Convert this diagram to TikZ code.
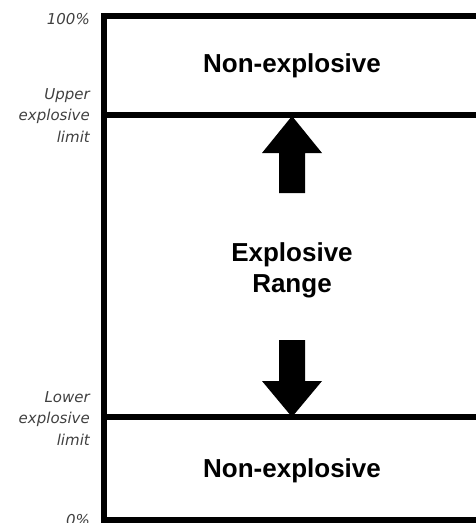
\documentclass[tikz,border=0pt]{standalone}
\usepackage{fontspec}
\newfontfamily\zonefont{Liberation Sans}
\newfontfamily\limitfont{DejaVu Sans}
\begin{document}
\begin{tikzpicture}[x=1pt,y=-1pt,
        borderline/.style={line width=6pt},
        zonetext/.style={font=\zonefont\bfseries\fontsize{26}{31}\selectfont,align=center},
        limittext/.style={font=\limitfont\itshape\fontsize{15}{21.5}\selectfont,text=black!75,align=right,inner sep=0pt,anchor=east},
        blockarrow/.style={fill=black}]
            \useasboundingbox (0,0) rectangle (475,523);

            \coordinate (A) at (104,16);
            \coordinate (B) at (480,16);
            \coordinate (C) at (480,520);
            \coordinate (D) at (104,520);

            \coordinate (E) at (104,115);
            \coordinate (F) at (480,115);

            \coordinate (G) at (104,417);
            \coordinate (H) at (480,417);

            \draw[borderline] (B) -- (A) -- (D) -- (C);
            \draw[borderline] (E) -- (F);
            \draw[borderline] (G) -- (H);

            % arrows pointing to the limits
            \fill[blockarrow] (292,116) -- (322,153) -- (305,153) -- (305,193)
                -- (279,193) -- (279,153) -- (262,153) -- cycle;
            \fill[blockarrow] (292,417) -- (322,381) -- (305,381) -- (305,340)
                -- (279,340) -- (279,381) -- (262,381) -- cycle;

            \node[zonetext,anchor=base] (upperzone) at (292,72) {Non-explosive};
            \node[zonetext] (range) at (292,270) {Explosive\\Range};
            \node[zonetext,anchor=base] (lowerzone) at (292,477) {Non-explosive};

            \node[limittext,anchor=base east] (full) at (90,24) {100\%};
            \node[limittext] (uel) at (90,115.4) {Upper\\explosive\\limit};
            \node[limittext] (lel) at (90,418.4) {Lower\\explosive\\limit};
            \node[limittext,anchor=base east] (empty) at (90,525) {0\%};
        \end{tikzpicture}
\end{document}
